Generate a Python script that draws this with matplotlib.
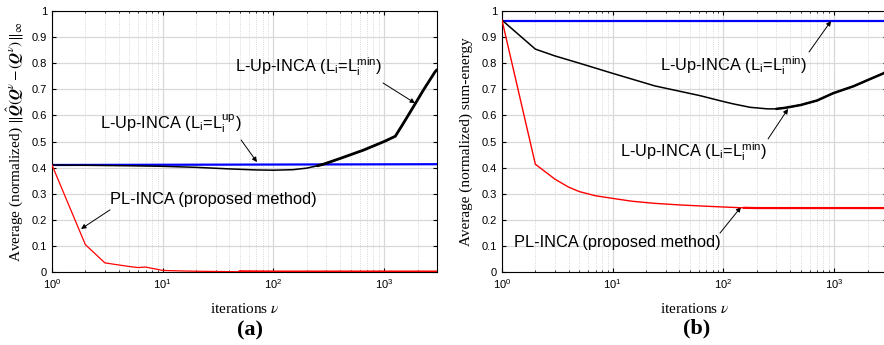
import matplotlib
matplotlib.use("Agg")
import matplotlib.pyplot as plt
import numpy as np

# ---- data ----
# (a) max-norm error vs iterations
a_red_x = [1, 2, 3, 4, 5, 6, 7, 8, 9, 10, 12, 15, 20, 30, 50, 100, 3000]
a_red_y = [0.41, 0.105, 0.035, 0.027, 0.021, 0.017, 0.019, 0.014, 0.010, 0.006, 0.005, 0.004, 0.003, 0.002, 0.001, 0.0, 0.0]
a_black_x = [1, 2, 5, 10, 20, 40, 70, 100, 150, 200, 250, 283, 400, 650, 1000, 1260, 1492, 1836, 2260, 2880, 3000]
a_black_y = [0.41, 0.409, 0.407, 0.405, 0.401, 0.395, 0.391, 0.39, 0.392, 0.398, 0.407, 0.413, 0.435, 0.467, 0.50, 0.52, 0.57, 0.633, 0.697, 0.767, 0.775]
a_blue_x = [1, 3000]
a_blue_y = [0.41, 0.413]

# (b) normalized sum-energy vs iterations
b_red_x = [1, 2, 3, 4, 5, 7, 10, 15, 24, 40, 70, 100, 150, 200, 3000]
b_red_y = [0.965, 0.413, 0.356, 0.325, 0.308, 0.292, 0.282, 0.271, 0.263, 0.257, 0.252, 0.249, 0.246, 0.245, 0.245]
b_black_x = [1, 2, 3, 5, 10, 24, 61, 100, 123, 174, 250, 300, 360, 500, 700, 980, 1500, 2000, 2780, 3000]
b_black_y = [0.965, 0.854, 0.828, 0.80, 0.761, 0.713, 0.676, 0.653, 0.644, 0.631, 0.625, 0.625, 0.629, 0.640, 0.657, 0.685, 0.712, 0.735, 0.761, 0.770]
b_blue_x = [1, 3000]
b_blue_y = [0.963, 0.963]

yticks = [0, 0.1, 0.2, 0.3, 0.4, 0.5, 0.6, 0.7, 0.8, 0.9, 1]
ytick_labels = ["0", "0.1", "0.2", "0.3", "0.4", "0.5", "0.6", "0.7", "0.8", "0.9", "1"]

plt.rcParams["font.family"] = ["Liberation Sans", "DejaVu Sans"]
plt.rcParams["mathtext.fontset"] = "stix"

W, H = 884, 345
fig = plt.figure(figsize=(W / 100, H / 100), dpi=100)

def px_axes(l, r, t, b):
    return fig.add_axes([l / W, 1 - b / H, (r - l) / W, (b - t) / H])

ax1 = px_axes(52, 437, 11, 272)
ax2 = px_axes(502, 887, 11, 272)

def style(ax):
    ax.set_xscale("log")
    ax.set_xlim(1, 3000)
    ax.set_ylim(0, 1)
    ax.set_yticks(yticks)
    ax.set_yticklabels(ytick_labels)
    ax.grid(True, which="major", color="#d8d8d8", lw=0.9, ls="-")
    ax.grid(True, which="minor", color="#cccccc", lw=0.6, ls=":")
    ax.tick_params(which="both", direction="in", top=True, right=True, labelsize=8)
    ax.tick_params(which="major", length=3)
    ax.tick_params(which="minor", length=1.5)
    for s in ax.spines.values():
        s.set_linewidth(0.8)
    ax.set_xlabel(r"iterations $\nu$", family="Liberation Serif", fontsize=11, labelpad=8)
    ax.set_axisbelow(True)

style(ax1)
style(ax2)

# (a)
ax1.plot(a_blue_x, a_blue_y, color="#0000ff", lw=1.6, zorder=3)
ax1.plot(a_black_x, a_black_y, color="black", lw=1.1, zorder=4)
bx = np.array(a_black_x); by = np.array(a_black_y)
ax1.plot(bx[bx >= 250], by[bx >= 250], color="black", lw=2.0, zorder=4, solid_capstyle="round")
ax1.plot(a_red_x, a_red_y, color="#ff0000", lw=0.9, zorder=5)
rx = np.array(a_red_x); ry = np.array(a_red_y)
ax1.plot(rx[rx >= 50], ry[rx >= 50], color="#ff0000", lw=2.2, zorder=5)

ax1.set_ylabel(r"Average (normalized) $\|\hat{\boldsymbol{Q}}(\boldsymbol{Q}^{\nu} - (\boldsymbol{Q}^{\nu})\|_{\infty}$",
               family="Liberation Serif", fontsize=11, labelpad=4)

lab_min = r"L-Up-INCA (L$_{\mathregular{i}}$=L$_{\mathregular{i}}^{\mathregular{min}}$)"
lab_up = r"L-Up-INCA (L$_{\mathregular{i}}$=L$_{\mathregular{i}}^{\mathregular{up}}$)"
lab_pl = "PL-INCA (proposed method)"
arrow = dict(arrowstyle="-|>", color="black", lw=0.7, mutation_scale=7, shrinkA=0, shrinkB=0)
fs = 11.8

ax1.text(45, 0.766, lab_min, fontsize=fs, va="baseline")
ax1.annotate("", xy=(1900, 0.647), xytext=(978, 0.724), arrowprops=arrow)
ax1.text(2.7, 0.548, lab_up, fontsize=fs, va="baseline")
ax1.annotate("", xy=(71, 0.421), xytext=(51, 0.506), arrowprops=arrow)
ax1.text(3.34, 0.26, lab_pl, fontsize=fs, va="baseline")
ax1.annotate("", xy=(1.83, 0.165), xytext=(3.34, 0.238), arrowprops=arrow)

# (b)
ax2.plot(b_blue_x, b_blue_y, color="#0000ff", lw=1.6, zorder=3)
ax2.plot(b_black_x, b_black_y, color="black", lw=1.1, zorder=4)
bx = np.array(b_black_x); by = np.array(b_black_y)
ax2.plot(bx[bx >= 300], by[bx >= 300], color="black", lw=1.8, zorder=4, solid_capstyle="round")
ax2.plot(b_red_x, b_red_y, color="#ff0000", lw=1.0, zorder=5)
rx = np.array(b_red_x); ry = np.array(b_red_y)
ax2.plot(rx[rx >= 150], ry[rx >= 150], color="#ff0000", lw=1.6, zorder=5, solid_capstyle="butt")

ax2.set_ylabel("Average (normalized) sum-energy", family="Liberation Serif", fontsize=11, labelpad=6)

ax2.text(26.7, 0.771, lab_min, fontsize=fs, va="baseline")
ax2.annotate("", xy=(937, 0.962), xytext=(593, 0.843), arrowprops=arrow)
ax2.text(11.6, 0.442, lab_min, fontsize=fs, va="baseline")
ax2.annotate("", xy=(383, 0.625), xytext=(253, 0.51), arrowprops=arrow)
ax2.text(1.28, 0.097, lab_pl, fontsize=fs, va="baseline")
ax2.annotate("", xy=(144, 0.249), xytext=(93, 0.149), arrowprops=arrow)

fig.text(250 / W, 1 - 330 / H, "(a)", family="Liberation Serif", fontsize=16, weight="bold", ha="center", va="center")
fig.text(697 / W, 1 - 328 / H, "(b)", family="Liberation Serif", fontsize=16, weight="bold", ha="center", va="center")

fig.savefig("out.png", dpi=100)
